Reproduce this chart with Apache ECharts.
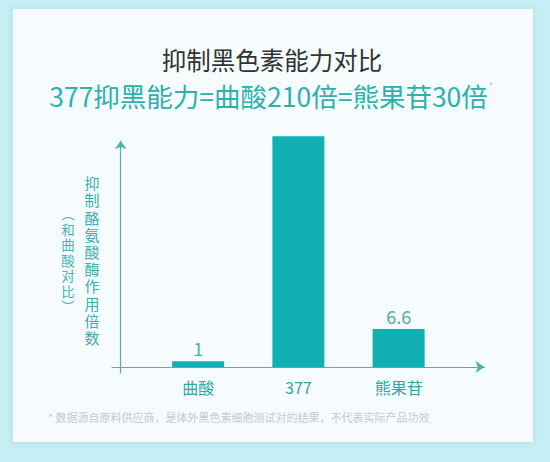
<!DOCTYPE html>
<html>
<head>
<meta charset="utf-8">
<script src="https://cdn.jsdelivr.net/npm/echarts@6/dist/echarts.min.js"></script>
<style>
html,body{margin:0;padding:0;background:#c6eff5;}
#c{width:550px;height:462px;}
</style>
</head>
<body>
<div id="c"></div>
<script>
// ---- data ----
const categories = ['曲酸', '377', '熊果苷'];
const values = [1, 40, 6.6];          // bar heights as drawn (middle bar unlabeled)
const showValueLabel = [true, false, true];

const titleText = '抑制黑色素能力对比';
const subtitleText = '377抑黑能力=曲酸210倍=熊果苷30倍';
const yNameMain = '抑制酪氨酸酶作用倍数';
const yNameSub = '︵和曲酸对比︶';
const footnote = '* 数据源自原料供应商，是体外黑色素细胞测试对的结果，不代表实际产品功效';

const FONT = '"Noto Sans CJK SC","Noto Sans",sans-serif';
const VFONT = '"Liberation Sans","Noto Sans CJK SC",sans-serif';
const TEAL = '#10b0b4';
const AXIS = '#4fb2b2';

const chart = echarts.init(document.getElementById('c'), null, {renderer: 'svg'});
chart.setOption({
  backgroundColor: '#c6eff5',
  animation: false,
  graphic: [
    {type: 'rect', z: -10, shape: {x: 13, y: 9, width: 520, height: 433},
     style: {fill: '#f6fcfd', shadowBlur: 6, shadowColor: 'rgba(0,80,100,0.12)'}},
    {type: 'text', x: 272, y: 59, style: {text: titleText, fill: '#333333',
      font: '400 24.5px ' + FONT, textAlign: 'center', textVerticalAlign: 'middle'}},
    {type: 'text', x: 268.5, y: 95, style: {text: subtitleText, fill: '#2db0b0',
      font: '400 26.5px ' + FONT, textAlign: 'center', textVerticalAlign: 'middle'}},
    {type: 'text', x: 491, y: 85, style: {text: '*', fill: '#b8c4c4',
      font: '400 10px ' + FONT, textAlign: 'center', textVerticalAlign: 'middle'}},
    {type: 'text', x: 92, y: 261, style: {text: yNameMain.split('').join('\n'), fill: '#3aaeae',
      font: '400 15px ' + VFONT, lineHeight: 17.2, textAlign: 'center', textVerticalAlign: 'middle'}},
    {type: 'text', x: 68, y: 261, style: {text: yNameSub.split('').join('\n'), fill: '#4ab4b4',
      font: '400 13.5px ' + VFONT, lineHeight: 15.5, textAlign: 'center', textVerticalAlign: 'middle'}},
    {type: 'text', x: 48, y: 417, style: {text: footnote, fill: '#c3cbcb',
      font: '400 11px ' + FONT, textAlign: 'left', textVerticalAlign: 'middle'}}
  ],
  grid: [
    {left: 148, right: 101.25, top: 136.3, bottom: 95},
    {left: 112, right: 65.5, top: 141, bottom: 89}
  ],
  xAxis: [
    {type: 'category', gridIndex: 0, data: categories,
     axisLine: {show: false}, axisTick: {show: false},
     axisLabel: {margin: 12, fontSize: 16, color: '#2fa8a8', fontFamily: FONT}},
    {type: 'value', gridIndex: 1, min: -8.7, max: 363.8,
     axisLine: {show: true, onZero: true, symbol: ['none', 'arrow'], symbolSize: [9, 9],
       lineStyle: {color: AXIS, width: 1.2}},
     axisTick: {show: false}, axisLabel: {show: false}, splitLine: {show: false}}
  ],
  yAxis: [
    {type: 'value', gridIndex: 0, min: 0, max: 40, show: false},
    {type: 'value', gridIndex: 1, min: -6, max: 226,
     axisLine: {show: true, onZero: true, symbol: ['none', 'arrow'], symbolSize: [9, 8],
       lineStyle: {color: AXIS, width: 1.2}},
     axisTick: {show: false}, axisLabel: {show: false}, splitLine: {show: false}}
  ],
  series: [{
    type: 'bar', xAxisIndex: 0, yAxisIndex: 0,
    data: values, barWidth: 52,
    itemStyle: {color: TEAL},
    label: {show: true, position: 'top', distance: 4, fontSize: 18, color: '#56a9a9',
      fontFamily: FONT,
      formatter: p => showValueLabel[p.dataIndex] ? String(p.value) : ''}
  }]
});
</script>
</body>
</html>
